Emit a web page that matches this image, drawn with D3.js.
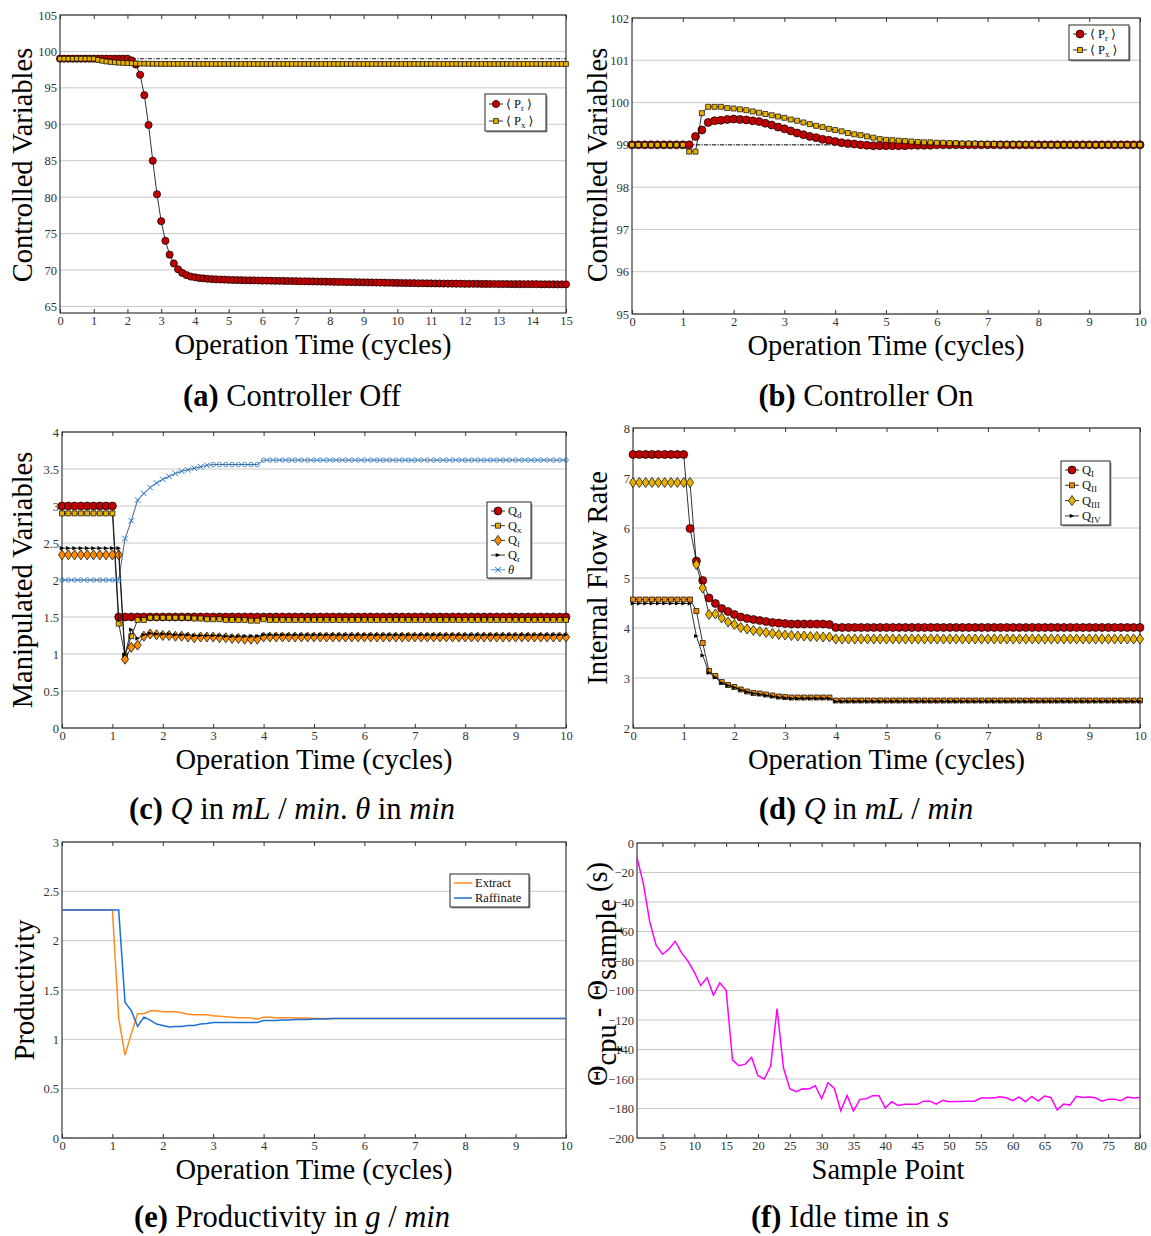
<!DOCTYPE html>
<html>
<head>
<meta charset="utf-8">
<script src="https://cdn.jsdelivr.net/npm/d3@7"></script>
<style>
  body { margin: 0; background: #fff; }
</style>
</head>
<body>
<script>
// ---- data ----
var timeA = d3.range(121).map(function(i) { return i / 8; });   // 0..15 cycles
var timeB = d3.range(81).map(function(i) { return i / 8; });    // 0..10 cycles
var samplePts = d3.range(1, 81);

var setpoint = 99;

// (a) controller off
var aPr = [99, 99, 99, 99, 99, 99, 99, 99,
  99, 99, 99, 99, 99, 99, 99, 99,
  99, 98.76, 98.2, 96.8, 94.0, 89.9, 85.0, 80.4,
  76.7, 74.0, 72.1, 70.9, 70.1, 69.6, 69.3, 69.1,
  69.0, 68.9, 68.85, 68.8, 68.75, 68.72, 68.7, 68.68,
  68.65, 68.63, 68.62, 68.60, 68.59, 68.58, 68.57, 68.56,
  68.55, 68.54, 68.53, 68.52, 68.51, 68.50, 68.49, 68.48,
  68.47, 68.46, 68.45, 68.44, 68.43, 68.42, 68.41, 68.40,
  68.39, 68.38, 68.37, 68.36, 68.35, 68.34, 68.33, 68.32,
  68.31, 68.30, 68.29, 68.28, 68.27, 68.26, 68.25, 68.24,
  68.23, 68.22, 68.21, 68.20, 68.19, 68.18, 68.18, 68.17,
  68.16, 68.15, 68.15, 68.14, 68.13, 68.13, 68.12, 68.12,
  68.11, 68.11, 68.10, 68.10, 68.09, 68.09, 68.08, 68.08,
  68.07, 68.07, 68.07, 68.06, 68.06, 68.06, 68.05, 68.05,
  68.05, 68.05, 68.04, 68.04, 68.04, 68.04, 68.03, 68.03,
  68.03];
var aPx = [99, 99, 99, 99, 99, 99, 99, 99,
  99, 98.85, 98.72, 98.62, 98.55, 98.5, 98.45, 98.42,
  98.4, 98.37, 98.35, 98.33, 98.32, 98.31, 98.3, 98.3,
  98.29, 98.29, 98.29, 98.29, 98.29, 98.29, 98.29, 98.29,
  98.28, 98.28, 98.28, 98.28, 98.28, 98.28, 98.28, 98.28,
  98.28, 98.28, 98.28, 98.28, 98.28, 98.28, 98.28, 98.28,
  98.28, 98.28, 98.28, 98.28, 98.28, 98.28, 98.28, 98.28,
  98.28, 98.28, 98.28, 98.28, 98.28, 98.28, 98.28, 98.28,
  98.28, 98.28, 98.28, 98.28, 98.28, 98.28, 98.28, 98.28,
  98.28, 98.28, 98.28, 98.28, 98.28, 98.28, 98.28, 98.28,
  98.28, 98.28, 98.28, 98.28, 98.28, 98.28, 98.28, 98.28,
  98.28, 98.28, 98.28, 98.28, 98.28, 98.28, 98.28, 98.28,
  98.28, 98.28, 98.28, 98.28, 98.28, 98.28, 98.28, 98.28,
  98.28, 98.28, 98.28, 98.28, 98.28, 98.28, 98.28, 98.28,
  98.28, 98.28, 98.28, 98.28, 98.28, 98.28, 98.28, 98.28,
  98.28];

// (b) controller on
var bPr = [99, 99, 99, 99, 99, 99, 99, 99,
  99, 99, 99.2, 99.35, 99.53, 99.57, 99.58, 99.6,
  99.61, 99.6, 99.59, 99.57, 99.55, 99.51, 99.47, 99.42,
  99.38, 99.33, 99.28, 99.24, 99.2, 99.17, 99.13, 99.11,
  99.08, 99.05, 99.03, 99.02, 99.0, 98.99, 98.98, 98.98,
  98.98, 98.98, 98.98, 98.98, 98.99, 98.99, 98.99, 98.99,
  99, 99, 99, 99, 99, 99, 99, 99,
  99, 99, 99, 99, 99, 99, 99, 99,
  99, 99, 99, 99, 99, 99, 99, 99,
  99, 99, 99, 99, 99, 99, 99, 99,
  99];
var bPx = [99, 99, 99, 99, 99, 99, 99, 99,
  99, 98.84, 98.84, 99.75, 99.9, 99.9, 99.9, 99.87,
  99.86, 99.84, 99.82, 99.79, 99.76, 99.73, 99.7, 99.67,
  99.64, 99.6, 99.57, 99.53, 99.49, 99.45, 99.42, 99.38,
  99.35, 99.32, 99.28, 99.25, 99.23, 99.2, 99.17, 99.14,
  99.12, 99.11, 99.1, 99.09, 99.08, 99.07, 99.06, 99.06,
  99.05, 99.05, 99.04, 99.04, 99.03, 99.03, 99.03, 99.02,
  99.02, 99.02, 99.01, 99.01, 99.01, 99.01, 99.01, 99.01,
  99, 99, 99, 99, 99, 99, 99, 99,
  99, 99, 99, 99, 99, 99, 99, 99,
  99];

// (c) manipulated variables
var cQd = [3, 3, 3, 3, 3, 3, 3, 3,
  3, 1.5, 1.5, 1.5, 1.5, 1.5, 1.5, 1.5,
  1.5, 1.5, 1.5, 1.5, 1.5, 1.5, 1.5, 1.5,
  1.5, 1.5, 1.5, 1.5, 1.5, 1.5, 1.5, 1.5,
  1.5, 1.5, 1.5, 1.5, 1.5, 1.5, 1.5, 1.5,
  1.5, 1.5, 1.5, 1.5, 1.5, 1.5, 1.5, 1.5,
  1.5, 1.5, 1.5, 1.5, 1.5, 1.5, 1.5, 1.5,
  1.5, 1.5, 1.5, 1.5, 1.5, 1.5, 1.5, 1.5,
  1.5, 1.5, 1.5, 1.5, 1.5, 1.5, 1.5, 1.5,
  1.5, 1.5, 1.5, 1.5, 1.5, 1.5, 1.5, 1.5,
  1.5];
var cQx = [2.9, 2.9, 2.9, 2.9, 2.9, 2.9, 2.9, 2.9,
  2.9, 1.41, 0.98, 1.24, 1.46, 1.46, 1.49, 1.49,
  1.49, 1.49, 1.49, 1.49, 1.49, 1.48, 1.48, 1.47,
  1.47, 1.47, 1.46, 1.46, 1.46, 1.46, 1.45, 1.45,
  1.47, 1.46, 1.46, 1.46, 1.46, 1.46, 1.46, 1.46,
  1.46, 1.46, 1.46, 1.46, 1.46, 1.46, 1.46, 1.46,
  1.46, 1.46, 1.46, 1.46, 1.46, 1.46, 1.46, 1.46,
  1.46, 1.46, 1.46, 1.46, 1.46, 1.46, 1.46, 1.46,
  1.46, 1.46, 1.46, 1.46, 1.46, 1.46, 1.46, 1.46,
  1.46, 1.46, 1.46, 1.46, 1.46, 1.46, 1.46, 1.46,
  1.46];
var cQf = [2.34, 2.34, 2.34, 2.34, 2.34, 2.34, 2.34, 2.34,
  2.34, 2.34, 0.93, 1.09, 1.12, 1.24, 1.27, 1.26,
  1.25, 1.25, 1.24, 1.24, 1.23, 1.22, 1.23, 1.23,
  1.23, 1.22, 1.22, 1.21, 1.21, 1.20, 1.20, 1.20,
  1.23, 1.23, 1.23, 1.23, 1.23, 1.23, 1.23, 1.23,
  1.23, 1.23, 1.23, 1.23, 1.23, 1.23, 1.23, 1.23,
  1.23, 1.23, 1.23, 1.23, 1.23, 1.23, 1.23, 1.23,
  1.23, 1.23, 1.23, 1.23, 1.23, 1.23, 1.23, 1.23,
  1.23, 1.23, 1.23, 1.23, 1.23, 1.23, 1.23, 1.23,
  1.23, 1.23, 1.23, 1.23, 1.23, 1.23, 1.23, 1.23,
  1.23];
var cQr = [2.43, 2.43, 2.43, 2.43, 2.43, 2.43, 2.43, 2.43,
  2.43, 2.43, 0.99, 1.33, 1.21, 1.26, 1.28, 1.27,
  1.27, 1.27, 1.26, 1.26, 1.26, 1.25, 1.25, 1.25,
  1.25, 1.25, 1.24, 1.24, 1.24, 1.24, 1.24, 1.24,
  1.26, 1.26, 1.26, 1.26, 1.26, 1.26, 1.26, 1.26,
  1.26, 1.26, 1.26, 1.26, 1.26, 1.26, 1.26, 1.26,
  1.26, 1.26, 1.26, 1.26, 1.26, 1.26, 1.26, 1.26,
  1.26, 1.26, 1.26, 1.26, 1.26, 1.26, 1.26, 1.26,
  1.26, 1.26, 1.26, 1.26, 1.26, 1.26, 1.26, 1.26,
  1.26, 1.26, 1.26, 1.26, 1.26, 1.26, 1.26, 1.26,
  1.26];
var cTheta = [2, 2, 2, 2, 2, 2, 2, 2,
  2, 2, 2.56, 2.80, 3.08, 3.17, 3.25, 3.31,
  3.36, 3.40, 3.44, 3.47, 3.49, 3.51, 3.53, 3.55,
  3.56, 3.56, 3.56, 3.56, 3.56, 3.56, 3.56, 3.56,
  3.62, 3.62, 3.62, 3.62, 3.62, 3.62, 3.62, 3.62,
  3.62, 3.62, 3.62, 3.62, 3.62, 3.62, 3.62, 3.62,
  3.62, 3.62, 3.62, 3.62, 3.62, 3.62, 3.62, 3.62,
  3.62, 3.62, 3.62, 3.62, 3.62, 3.62, 3.62, 3.62,
  3.62, 3.62, 3.62, 3.62, 3.62, 3.62, 3.62, 3.62,
  3.62, 3.62, 3.62, 3.62, 3.62, 3.62, 3.62, 3.62,
  3.62];

// (d) internal flow rates
var dQ1 = [7.47, 7.47, 7.47, 7.47, 7.47, 7.47, 7.47, 7.47,
  7.47, 5.99, 5.34, 4.95, 4.60, 4.49, 4.39, 4.33,
  4.27, 4.22, 4.19, 4.17, 4.15, 4.13, 4.11, 4.10,
  4.09, 4.08, 4.08, 4.08, 4.08, 4.08, 4.08, 4.07,
  4.01, 4.01, 4.01, 4.01, 4.01, 4.01, 4.01, 4.01,
  4.01, 4.01, 4.01, 4.01, 4.01, 4.01, 4.01, 4.01,
  4.01, 4.01, 4.01, 4.01, 4.01, 4.01, 4.01, 4.01,
  4.01, 4.01, 4.01, 4.01, 4.01, 4.01, 4.01, 4.01,
  4.01, 4.01, 4.01, 4.01, 4.01, 4.01, 4.01, 4.01,
  4.01, 4.01, 4.01, 4.01, 4.01, 4.01, 4.01, 4.01,
  4.01];
var dQ2 = [4.57, 4.57, 4.57, 4.57, 4.57, 4.57, 4.57, 4.57,
  4.57, 4.57, 4.34, 3.70, 3.14, 3.04, 2.92, 2.86,
  2.82, 2.77, 2.73, 2.70, 2.69, 2.67, 2.65, 2.63,
  2.62, 2.61, 2.61, 2.61, 2.61, 2.61, 2.61, 2.61,
  2.55, 2.55, 2.55, 2.55, 2.55, 2.55, 2.55, 2.55,
  2.55, 2.55, 2.55, 2.55, 2.55, 2.55, 2.55, 2.55,
  2.55, 2.55, 2.55, 2.55, 2.55, 2.55, 2.55, 2.55,
  2.55, 2.55, 2.55, 2.55, 2.55, 2.55, 2.55, 2.55,
  2.55, 2.55, 2.55, 2.55, 2.55, 2.55, 2.55, 2.55,
  2.55, 2.55, 2.55, 2.55, 2.55, 2.55, 2.55, 2.55,
  2.55];
var dQ3 = [6.91, 6.91, 6.91, 6.91, 6.91, 6.91, 6.91, 6.91,
  6.91, 6.91, 5.27, 4.80, 4.27, 4.28, 4.20, 4.12,
  4.07, 4.01, 3.98, 3.95, 3.93, 3.91, 3.89, 3.87,
  3.86, 3.85, 3.84, 3.84, 3.83, 3.83, 3.82, 3.82,
  3.78, 3.78, 3.78, 3.78, 3.78, 3.78, 3.78, 3.78,
  3.78, 3.78, 3.78, 3.78, 3.78, 3.78, 3.78, 3.78,
  3.78, 3.78, 3.78, 3.78, 3.78, 3.78, 3.78, 3.78,
  3.78, 3.78, 3.78, 3.78, 3.78, 3.78, 3.78, 3.78,
  3.78, 3.78, 3.78, 3.78, 3.78, 3.78, 3.78, 3.78,
  3.78, 3.78, 3.78, 3.78, 3.78, 3.78, 3.78, 3.78,
  3.78];
var dQ4 = [4.49, 4.49, 4.49, 4.49, 4.49, 4.49, 4.49, 4.49,
  4.49, 4.49, 3.84, 3.45, 3.10, 3.01, 2.90, 2.85,
  2.81, 2.76, 2.72, 2.69, 2.67, 2.65, 2.63, 2.61,
  2.60, 2.59, 2.59, 2.59, 2.59, 2.59, 2.59, 2.59,
  2.53, 2.53, 2.53, 2.53, 2.53, 2.53, 2.53, 2.53,
  2.53, 2.53, 2.53, 2.53, 2.53, 2.53, 2.53, 2.53,
  2.53, 2.53, 2.53, 2.53, 2.53, 2.53, 2.53, 2.53,
  2.53, 2.53, 2.53, 2.53, 2.53, 2.53, 2.53, 2.53,
  2.53, 2.53, 2.53, 2.53, 2.53, 2.53, 2.53, 2.53,
  2.53, 2.53, 2.53, 2.53, 2.53, 2.53, 2.53, 2.53,
  2.53];

// (e) productivity
var eExtract = [2.31, 2.31, 2.31, 2.31, 2.31, 2.31, 2.31, 2.31,
  2.31, 1.215, 0.84, 1.055, 1.26, 1.26, 1.29, 1.29,
  1.28, 1.28, 1.28, 1.27, 1.255, 1.25, 1.25, 1.25,
  1.24, 1.235, 1.23, 1.225, 1.22, 1.22, 1.215, 1.205,
  1.225, 1.225, 1.22, 1.22, 1.22, 1.215, 1.215, 1.215,
  1.21, 1.21, 1.21, 1.21, 1.21, 1.21, 1.21, 1.21,
  1.21, 1.21, 1.21, 1.21, 1.21, 1.21, 1.21, 1.21,
  1.21, 1.21, 1.21, 1.21, 1.21, 1.21, 1.21, 1.21,
  1.21, 1.21, 1.21, 1.21, 1.21, 1.21, 1.21, 1.21,
  1.21, 1.21, 1.21, 1.21, 1.21, 1.21, 1.21, 1.21,
  1.21];
var eRaffinate = [2.31, 2.31, 2.31, 2.31, 2.31, 2.31, 2.31, 2.31,
  2.31, 2.31, 1.375, 1.29, 1.13, 1.225, 1.195, 1.155,
  1.14, 1.125, 1.13, 1.13, 1.14, 1.14, 1.155, 1.16,
  1.17, 1.17, 1.17, 1.17, 1.17, 1.17, 1.17, 1.17,
  1.19, 1.19, 1.19, 1.195, 1.195, 1.2, 1.2, 1.2,
  1.205, 1.205, 1.205, 1.21, 1.21, 1.21, 1.21, 1.21,
  1.21, 1.21, 1.21, 1.21, 1.21, 1.21, 1.21, 1.21,
  1.21, 1.21, 1.21, 1.21, 1.21, 1.21, 1.21, 1.21,
  1.21, 1.21, 1.21, 1.21, 1.21, 1.21, 1.21, 1.21,
  1.21, 1.21, 1.21, 1.21, 1.21, 1.21, 1.21, 1.21,
  1.21];

// (f) idle time per sample point
var fIdle = [-10, -27.5, -53.5, -69.3, -75.4, -72, -66.6, -74.5,
  -80.1, -87.6, -96.6, -91.4, -103.2, -94.8, -99.8, -147.2,
  -151, -149.9, -145.4, -157.8, -160, -151, -112.2, -152.4,
  -166.6, -168.6, -166.6, -166.8, -164.6, -173.4, -162.5, -166.4,
  -181.5, -171.1, -181.7, -173.8, -173.4, -171.3, -171.3, -179.7,
  -175.4, -177.9, -177.2, -177.2, -177.2, -175, -175, -177,
  -174.5, -175.4, -175.2, -175.2, -175, -175, -172.9, -172.9,
  -172.9, -172, -172.7, -174.7, -172.2, -175.4, -171.8, -175,
  -171.6, -172.5, -181, -177, -177.7, -171.8, -172.5, -172.2,
  -172.7, -175, -173.8, -173.8, -174.7, -172.2, -172.9, -172.5];

// tick values
var ticksX15 = d3.range(0, 16);
var ticksX10 = d3.range(0, 11);
var ticksA = [65, 70, 75, 80, 85, 90, 95, 100, 105];
var ticksB = [95, 96, 97, 98, 99, 100, 101, 102];
var ticksC = [0, 0.5, 1, 1.5, 2, 2.5, 3, 3.5, 4];
var ticksD = [2, 3, 4, 5, 6, 7, 8];
var ticksE = [0, 0.5, 1, 1.5, 2, 2.5, 3];
var ticksF = [-200, -180, -160, -140, -120, -100, -80, -60, -40, -20, 0];
var ticksFx = [5, 10, 15, 20, 25, 30, 35, 40, 45, 50, 55, 60, 65, 70, 75, 80];

// ---- drawing ----
var FONT = "'Liberation Serif', 'DejaVu Serif', serif";
var RED = "#c00000", GOLD = "#e8b000", ORANGE = "#ff8c00", BLUE = "#1f78d6";
var TICK_FS = 12.5, LABEL_FS = 28.5, CAPTION_FS = 30.5;

var svg = d3.select("body").append("svg")
    .attr("width", 1151)
    .attr("height", 1236)
    .style("background", "#fff");

function markerPath(type, size) {
  var s = size;
  if (type == "circle") return "M" + s + ",0A" + s + "," + s + " 0 1,1 " + (-s) + ",0A" + s + "," + s + " 0 1,1 " + s + ",0Z";
  if (type == "square") return "M" + (-s) + "," + (-s) + "H" + s + "V" + s + "H" + (-s) + "Z";
  if (type == "diamond") return "M0," + (-s * 1.4) + "L" + s + ",0L0," + (s * 1.4) + "L" + (-s) + ",0Z";
  if (type == "arrow") return "M" + (-s) + "," + (-s * 0.9) + "L" + s + ",0L" + (-s) + "," + (s * 0.9) + "Z";
  if (type == "cross") return "M" + (-s) + "," + (-s) + "L" + s + "," + s + "M" + (-s) + "," + s + "L" + s + "," + (-s);
  return "";
}

function drawMarker(sel, s) {
  if (s.marker == "cross") {
    sel.attr("d", markerPath("cross", s.size)).attr("fill", "none").attr("stroke", s.fill).attr("stroke-width", 1);
  } else if (s.marker == "ring") {
    sel.attr("d", markerPath("circle", s.size * 0.8)).attr("fill", "none").attr("stroke", s.fill).attr("stroke-width", 0.8);
  } else {
    sel.attr("d", markerPath(s.marker, s.size)).attr("fill", s.fill)
      .attr("stroke", s.marker == "arrow" ? "none" : "#000").attr("stroke-width", 0.7);
  }
}

// writes a list of [text, style] parts into a text element
function richText(el, parts, sub) {
  var shift = 0;
  parts.forEach(function(p) {
    var t = el.append("tspan").text(p[0]);
    var target = p[1] == "sub" ? sub : 0;
    if (target != shift) { t.attr("dy", target - shift); shift = target; }
    if (p[1] == "b") t.attr("font-weight", "bold");
    if (p[1] == "i") t.attr("font-style", "italic");
    if (p[1] == "sub" && sub < 6) t.attr("font-size", "0.72em");
  });
}

function frame(cfg) {
  var x = d3.scaleLinear().domain(cfg.xDomain).range([cfg.left, cfg.right]);
  var y = d3.scaleLinear().domain(cfg.yDomain).range([cfg.bottom, cfg.top]);
  var g = svg.append("g");

  // horizontal grid
  g.append("g").selectAll("line").data(cfg.yTicks).enter().append("line")
    .attr("x1", cfg.left).attr("x2", cfg.right)
    .attr("y1", function(d) { return y(d); })
    .attr("y2", function(d) { return y(d); })
    .attr("stroke", "#c8c8c8").attr("stroke-width", 1);

  g.append("rect")
    .attr("x", cfg.left).attr("y", cfg.top)
    .attr("width", cfg.right - cfg.left).attr("height", cfg.bottom - cfg.top)
    .attr("fill", "none").attr("stroke", "#111").attr("stroke-width", 1);

  var fmt = function(d) { return d < 0 ? "\u2212" + Math.abs(d) : String(d); };
  g.append("g").attr("transform", "translate(0," + cfg.bottom + ")")
    .call(d3.axisBottom(x).tickValues(cfg.xTicks).tickSize(-4).tickPadding(3).tickFormat(fmt));
  g.append("g").attr("transform", "translate(0," + cfg.top + ")")
    .call(d3.axisTop(x).tickValues(cfg.xTicks).tickSize(-4).tickFormat(""));
  g.append("g").attr("transform", "translate(" + cfg.left + ",0)")
    .call(d3.axisLeft(y).tickValues(cfg.yTicks).tickSize(0).tickPadding(3).tickFormat(fmt));
  g.selectAll(".domain").remove();
  g.selectAll(".tick line").attr("stroke", "#333");
  g.selectAll(".tick text").attr("font-family", FONT).attr("font-size", TICK_FS).attr("fill", "#333");

  // axis labels and caption
  svg.append("text").attr("x", cfg.xLabelX || (cfg.left + cfg.right) / 2).attr("y", cfg.bottom + 41)
    .attr("text-anchor", "middle").attr("font-family", FONT).attr("font-size", LABEL_FS)
    .text(cfg.xLabel);
  var yt = svg.append("text")
    .attr("transform", "translate(" + cfg.yLabelPos[0] + "," + cfg.yLabelPos[1] + ") rotate(-90)")
    .attr("text-anchor", "middle").attr("dy", "0.35em")
    .attr("font-family", FONT).attr("font-size", cfg.yLabelSize || LABEL_FS);
  richText(yt, cfg.yLabel, 9);
  var ct = svg.append("text").attr("x", cfg.caption[0]).attr("y", cfg.caption[1])
    .attr("text-anchor", "middle").attr("font-family", FONT).attr("font-size", CAPTION_FS);
  richText(ct, cfg.captionText, 0);

  return { g: g, x: x, y: y };
}

function panel(cfg) {
  var f = frame(cfg), g = f.g, x = f.x, y = f.y;

  // set-point line
  if (cfg.ref != null) {
    g.append("line")
      .attr("x1", x(cfg.xDomain[0])).attr("x2", x(cfg.xDomain[1]))
      .attr("y1", y(cfg.ref)).attr("y2", y(cfg.ref))
      .attr("stroke", "#000").attr("stroke-width", 0.9)
      .attr("stroke-dasharray", "4,1.5,1,1.5");
  }

  cfg.series.forEach(function(s) {
    var line = d3.line()
      .x(function(d, i) { return x(s.time[i]); })
      .y(function(d) { return y(d); });
    g.append("path").datum(s.values)
      .attr("d", line)
      .attr("fill", "none")
      .attr("stroke", s.line)
      .attr("stroke-width", s.lineWidth || 0.8);
    if (!s.marker) return;
    g.append("g").selectAll("path").data(s.values).enter().append("path")
      .attr("transform", function(d, i) { return "translate(" + x(s.time[i]) + "," + y(d) + ")"; })
      .each(function(d, i) {
        var m = s.marker;
        if (m == "mixed") {
          var flat = s.values[i - 1] === d || s.values[i + 1] === d;
          m = flat ? "ring" : "cross";
        }
        drawMarker(d3.select(this), { marker: m, size: s.size, fill: s.fill });
      });
  });

  // legend
  var L = cfg.legend;
  if (!L) return;
  var lg = g.append("g");
  lg.append("rect").attr("x", L.x + 1.5).attr("y", L.y + 1.5).attr("width", L.w).attr("height", L.h)
    .attr("fill", "#999");
  lg.append("rect").attr("x", L.x).attr("y", L.y).attr("width", L.w).attr("height", L.h)
    .attr("fill", "#fff").attr("stroke", "#111").attr("stroke-width", 0.9);
  cfg.series.forEach(function(s, k) {
    var yy = L.y + L.first + k * L.step;
    var len = L.line || 14;
    lg.append("line").attr("x1", L.x + 4).attr("x2", L.x + 4 + len)
      .attr("y1", yy).attr("y2", yy)
      .attr("stroke", s.legendLine || s.line).attr("stroke-width", s.lineWidth || 0.8);
    if (s.marker) {
      var m = s.marker == "mixed" ? "cross" : s.marker;
      drawMarker(lg.append("path").attr("transform", "translate(" + (L.x + 4 + len / 2) + "," + yy + ")"),
        { marker: m, size: s.size, fill: s.fill });
    }
    var t = lg.append("text").attr("x", L.x + 7 + len).attr("y", yy + 4)
      .attr("font-family", FONT).attr("font-size", 12.5).attr("fill", "#111");
    richText(t, s.label, 3);
  });
}

var prLabel = [["\u27E8 P", ""], ["r", "sub"], [" \u27E9", ""]];
var pxLabel = [["\u27E8 P", ""], ["x", "sub"], [" \u27E9", ""]];

panel({
  left: 60, right: 566, top: 15, bottom: 313,
  xDomain: [0, 15], yDomain: [64.1, 105], xTicks: ticksX15, yTicks: ticksA, ref: setpoint,
  series: [
    { time: timeA, values: aPr, marker: "circle", size: 3.6, fill: RED, line: "#000", label: prLabel },
    { time: timeA, values: aPx, marker: "square", size: 2.4, fill: GOLD, line: "#000", label: pxLabel }
  ],
  legend: { x: 485, y: 94, w: 61, h: 37, first: 10, step: 17 },
  xLabel: "Operation Time (cycles)", yLabel: [["Controlled Variables", ""]], yLabelPos: [22, 165],
  caption: [292, 406], captionText: [["(a)", "b"], [" Controller Off", ""]]
});

panel({
  left: 632, right: 1140, top: 18, bottom: 314,
  xDomain: [0, 10], yDomain: [95, 102], xTicks: ticksX10, yTicks: ticksB, ref: setpoint,
  series: [
    { time: timeB, values: bPr, marker: "circle", size: 4, fill: RED, line: "#000", label: prLabel },
    { time: timeB, values: bPx, marker: "square", size: 2.5, fill: GOLD, line: "#000", label: pxLabel }
  ],
  legend: { x: 1069, y: 25, w: 60, h: 35, first: 9, step: 16 },
  xLabel: "Operation Time (cycles)", yLabel: [["Controlled Variables", ""]], yLabelPos: [597, 165],
  caption: [866, 406], captionText: [["(b)", "b"], [" Controller On", ""]]
});

panel({
  left: 62, right: 566, top: 432, bottom: 728,
  xDomain: [0, 10], yDomain: [0, 4], xTicks: ticksX10, yTicks: ticksC,
  series: [
    { time: timeB, values: cQd, marker: "circle", size: 4, fill: RED, line: "#000", label: [["Q", ""], ["d", "sub"]] },
    { time: timeB, values: cQx, marker: "square", size: 2.5, fill: GOLD, line: "#000", label: [["Q", ""], ["x", "sub"]] },
    { time: timeB, values: cQf, marker: "diamond", size: 3.6, fill: ORANGE, line: "#000", label: [["Q", ""], ["f", "sub"]] },
    { time: timeB, values: cQr, marker: "arrow", size: 2.3, fill: "#000", line: "#000", label: [["Q", ""], ["r", "sub"]] },
    { time: timeB, values: cTheta, marker: "mixed", size: 2.8, fill: BLUE, line: "#123c6e", legendLine: BLUE, label: [["\u03B8", "i"]] }
  ],
  legend: { x: 487, y: 502, w: 44, h: 76, first: 9, step: 14.7 },
  xLabel: "Operation Time (cycles)", yLabel: [["Manipulated Variables", ""]], yLabelPos: [22, 580],
  caption: [292, 819],
  captionText: [["(c)", "b"], [" ", ""], ["Q", "i"], [" in ", ""], ["mL", "i"], [" / ", ""], ["min", "i"], [". ", ""], ["\u03B8", "i"], [" in ", ""], ["min", "i"]]
});

panel({
  left: 633, right: 1140, top: 428, bottom: 728,
  xDomain: [0, 10], yDomain: [2, 8], xTicks: ticksX10, yTicks: ticksD,
  series: [
    { time: timeB, values: dQ1, marker: "circle", size: 4, fill: RED, line: "#000", label: [["Q", ""], ["I", "sub"]] },
    { time: timeB, values: dQ2, marker: "square", size: 2.5, fill: "#f08a00", line: "#000", label: [["Q", ""], ["II", "sub"]] },
    { time: timeB, values: dQ3, marker: "diamond", size: 3.6, fill: GOLD, line: "#000", label: [["Q", ""], ["III", "sub"]] },
    { time: timeB, values: dQ4, marker: "arrow", size: 2.3, fill: "#000", line: "#000", label: [["Q", ""], ["IV", "sub"]] }
  ],
  legend: { x: 1061, y: 461, w: 49, h: 64, first: 9, step: 15.3 },
  xLabel: "Operation Time (cycles)", yLabel: [["Internal Flow Rate", ""]], yLabelPos: [597, 578],
  caption: [866, 819],
  captionText: [["(d)", "b"], [" ", ""], ["Q", "i"], [" in ", ""], ["mL", "i"], [" / ", ""], ["min", "i"]]
});

panel({
  left: 62, right: 566, top: 842, bottom: 1138,
  xDomain: [0, 10], yDomain: [0, 3], xTicks: ticksX10, yTicks: ticksE,
  series: [
    { time: timeB, values: eExtract, line: "#ff8a1e", lineWidth: 1.5, label: [["Extract", ""]] },
    { time: timeB, values: eRaffinate, line: "#1a6fd4", lineWidth: 1.5, label: [["Raffinate", ""]] }
  ],
  legend: { x: 450, y: 874, w: 79, h: 33, first: 9, step: 15, line: 18 },
  xLabel: "Operation Time (cycles)", yLabel: [["Productivity", ""]], yLabelPos: [24, 990],
  caption: [292, 1227],
  captionText: [["(e)", "b"], [" Productivity in ", ""], ["g", "i"], [" / ", ""], ["min", "i"]]
});

// (f) idle time, plain line, no legend
(function() {
  var f = frame({
    left: 637, right: 1140, top: 843, bottom: 1138,
    xDomain: [1, 80], yDomain: [-200, 0], xTicks: ticksFx, yTicks: ticksF,
    xLabel: "Sample Point", xLabelX: 888,
    yLabel: [["\u0398", ""], ["cpu", "sub"], [" - \u0398", ""], ["sample", "sub"], [" (s)", ""]],
    yLabelPos: [597, 974], yLabelSize: 28.5,
    caption: [850, 1227], captionText: [["(f)", "b"], [" Idle time in ", ""], ["s", "i"]]
  });
  f.g.append("path").datum(fIdle)
    .attr("d", d3.line()
      .x(function(d, i) { return f.x(samplePts[i]); })
      .y(function(d) { return f.y(d); }))
    .attr("fill", "none").attr("stroke", "#ff00ff").attr("stroke-width", 1.5);
})();
</script>
</body>
</html>
